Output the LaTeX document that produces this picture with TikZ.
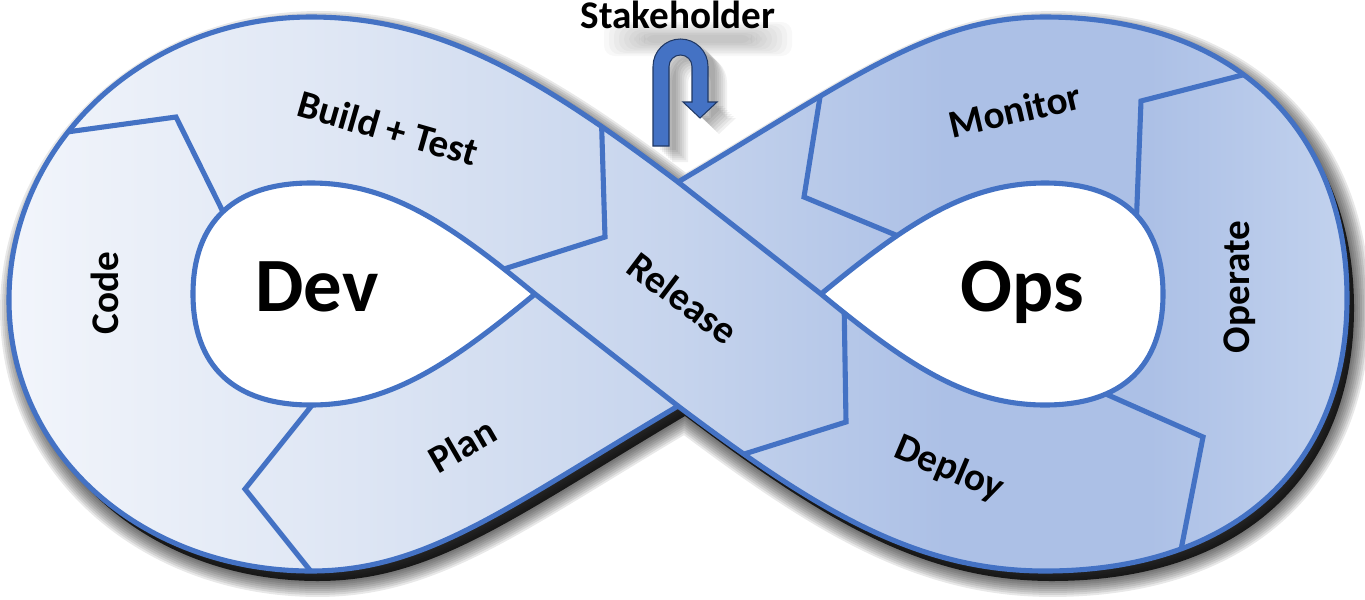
\documentclass[tikz,border=0pt]{standalone}
\usepackage{fontspec}
\setmainfont{Carlito}
\definecolor{lineblue}{HTML}{4472C4}
\definecolor{arrowedge}{HTML}{203864}
\definecolor{cA}{HTML}{F2F5FB}
\definecolor{cB}{HTML}{DEE6F4}
\definecolor{cC}{HTML}{C6D4ED}
\definecolor{cD}{HTML}{ACC0E6}
\definecolor{cE}{HTML}{C2D2EE}
\pgfdeclarehorizontalshading{ribbonshade}{100bp}{color(0bp)=(cA); color(25bp)=(cA); color(37.7bp)=(cB); color(50bp)=(cC); color(60bp)=(cD); color(67.6bp)=(cD); color(75bp)=(cE); color(100bp)=(cE)}
\newcommand\silpath{(678,182) .. controls (540,78) and (440,17) .. (311,17) .. controls (144,17) and (9,144) .. (9,300) .. controls (9,456) and (144,571) .. (311,571) .. controls (426,571) and (506,508) .. (678,406) .. controls (816,510) and (916,571) .. (1045,571) .. controls (1235,571) and (1347,466) .. (1347,298) .. controls (1347,130) and (1235,17) .. (1045,17) .. controls (930,17) and (850,80) .. (678,182) -- cycle}
\newcommand\devhole{(535,294) .. controls (450,224) and (390,183) .. (311,183) .. controls (234,183) and (193,222) .. (193,294) .. controls (193,366) and (234,405) .. (311,405) .. controls (390,405) and (450,364) .. (535,294) -- cycle}
\newcommand\opshole{(821,294) .. controls (906,364) and (966,405) .. (1045,405) .. controls (1122,405) and (1163,366) .. (1163,294) .. controls (1163,222) and (1122,183) .. (1045,183) .. controls (966,183) and (906,224) .. (821,294) -- cycle}
\newcommand\uturnpath{(653,146) -- (653,66.5) .. controls (653,51.3) and (665.3,39) .. (680.5,39) .. controls (695.7,39) and (708,51.3) .. (708,66.5) -- (708,102) -- (717,102) -- (700,118) -- (683,102) -- (692,102) -- (692,66.5) .. controls (692,60.1) and (686.9,55) .. (680.5,55) .. controls (674.1,55) and (669,60.1) .. (669,66.5) -- (669,146) -- cycle}
\newcommand\lblfont{\fontsize{22.3pt}{26pt}\selectfont\bfseries}
\newcommand\bigfont{\fontsize{43.7pt}{50pt}\selectfont\bfseries}
\tikzset{
  edge/.style={draw=lineblue, line width=2.9pt, line cap=round, line join=round},
  divider/.style={draw=lineblue, line width=2.9pt, line join=miter},
  lbl/.style={font=\lblfont, text=black, inner sep=0pt},
  big/.style={font=\bigfont, text=black, inner sep=0pt},
}
\begin{document}
\begin{tikzpicture}[x=0.02cm, y=-0.02cm]
\useasboundingbox (0,0) rectangle (1365,599);
% drop shadow of the ribbon
\begin{scope}[shift={(7,10)}]
  \fill[black, opacity=0.8] \silpath;
  \foreach \w in {4,8,12,16,20,24,28,32} {
    \draw[black, opacity=0.09, line width=\w*0.567pt, line join=round] \silpath;
  }
\end{scope}
% soft shadow under the stakeholder text
\foreach \a in {0,1,...,8} {
  \fill[black, opacity=0.028, rounded corners=6pt] (604+\a*5,22+\a*1.6) rectangle (792-\a*5,56-\a*1.6);
}
% soft shadow of the arrow
\foreach \s in {4,6,8,10,12,14,16} {
  \fill[black, opacity=0.055, shift={(\s+3,\s)}] \uturnpath;
}
% ribbon body
\shade[shading=ribbonshade] \silpath;
\begin{scope}
  \clip \silpath;
  \draw[divider] (45,135) -- (176,117) -- (231,228);
  \draw[divider] (321,584) -- (245,489) -- (321,394);
  \draw[divider] (601,105) -- (605,237) -- (485,275);
  \draw[divider] (844,298) -- (846,422) -- (722,461);
  \draw[divider] (824,72) -- (804,197) -- (915,243);
  \draw[divider] (1262,70) -- (1141,101) -- (1136,230);
  \draw[divider] (1090,387) -- (1203,437) -- (1179,560);
\end{scope}
\fill[white] \devhole;
\fill[white] \opshole;
% ribbon edges
\draw[edge] (678,406) .. controls (506,508) and (426,571) .. (311,571) .. controls (144,571) and (9,456) .. (9,300) .. controls (9,144) and (144,17) .. (311,17) .. controls (440,17) and (540,78) .. (678,182) -- (821,294) .. controls (906,364) and (966,405) .. (1045,405) .. controls (1122,405) and (1163,366) .. (1163,294) .. controls (1163,222) and (1122,183) .. (1045,183) .. controls (966,183) and (906,224) .. (821,294);
\draw[edge] (678,182) .. controls (850,80) and (930,17) .. (1045,17) .. controls (1235,17) and (1347,130) .. (1347,298) .. controls (1347,466) and (1235,571) .. (1045,571) .. controls (916,571) and (816,510) .. (678,406) -- (535,294) .. controls (450,224) and (390,183) .. (311,183) .. controls (234,183) and (193,222) .. (193,294) .. controls (193,366) and (234,405) .. (311,405) .. controls (390,405) and (450,364) .. (535,294);
% labels
\node[lbl, rotate=-16] (build) at (388,128) {Build + Test};
\node[lbl, rotate=90] (code) at (105,293) {Code};
\node[lbl, rotate=30] (plan) at (462,445) {Plan};
\node[lbl, rotate=-37] (release) at (683,298) {Release};
\node[lbl, rotate=13] (monitor) at (1015,110) {Monitor};
\node[lbl, rotate=90] (operate) at (1240,287) {Operate};
\node[lbl, rotate=-23] (deploy) at (949,469) {Deploy};
\node[big, anchor=base] (dev) at (317,311) {Dev};
\node[big, anchor=base] (ops) at (1022,311) {Ops};
% stakeholder
\node[lbl] (stake) at (678,15) {Stakeholder};
\filldraw[fill=lineblue, draw=arrowedge, line width=0.6pt, line join=miter] \uturnpath;
\end{tikzpicture}
\end{document}
